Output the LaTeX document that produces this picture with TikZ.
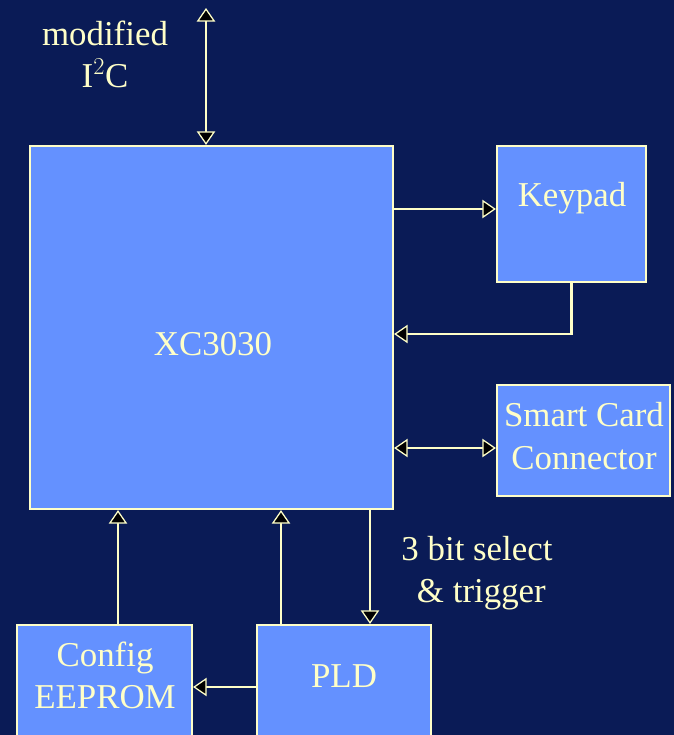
\documentclass[tikz,border=0pt]{standalone}
\usepackage{fontspec}
\setmainfont{Liberation Serif}
\usetikzlibrary{arrows.meta}

\definecolor{navy}{RGB}{10,27,86}
\definecolor{boxblue}{RGB}{100,145,255}
\definecolor{cream}{RGB}{255,255,200}

\begin{document}
\begin{tikzpicture}[x=0.025cm, y=-0.025cm,
  box/.style={draw=cream, line width=1.5pt, fill=boxblue, inner sep=0pt},
  txt/.style={text=cream, align=center, inner sep=0pt,
    font=\fontsize{24.8pt}{30pt}\selectfont},
  link/.style={draw=cream, line width=1.6pt},
  >={Triangle[length=0.34cm, width=0.46cm, fill=black, line width=0.9pt]}]
  % Page and background
  \useasboundingbox (0,0) rectangle (674,735);
  \fill[navy] (0,0) rectangle (674,735);
  \clip (0,0) rectangle (674,735);

  % Blocks
  \node[box, minimum width=9.075cm, minimum height=9.075cm] (xc) at (211.5,327.5) {};
  \node[box, minimum width=3.725cm, minimum height=3.4cm] (keypad) at (571.5,214) {};
  \node[box, minimum width=4.325cm, minimum height=2.775cm] (smart) at (583.5,440.5) {};
  \node[box, minimum width=4.375cm, minimum height=3.375cm] (eeprom) at (104.5,692.5) {};
  \node[box, minimum width=4.35cm, minimum height=3.375cm] (pld) at (344,692.5) {};

  % Texts
  \node[txt] (xctext) at (213,344) {XC3030};
  \node[txt] (keypadtext) at (572,198) {Keypad};
  \node[txt] (smarttext) at (584,436) {Smart Card\\Connector};
  \node[txt] (eepromtext) at (105,675) {Config\\EEPROM};
  \node[txt] (pldtext) at (344,676) {PLD};
  \node[txt] (i2ctext) at (105,54) {modified\\I$^{2}$C};
  \node[txt] (seltext) at (477,573) {3 bit select\\\ \& trigger};

  % Free end of the bus
  \coordinate (i2ctop) at (206,8);

  % Connections
  \draw[link, <->] (i2ctop) -- (i2ctop |- xc.north);
  \draw[link, ->] (xc.east |- 0,209) -- (keypad.west |- 0,209);
  \draw[link, ->] (keypad.south) |- (xc.east |- 0,334);
  \draw[link, <->] (xc.east |- 0,448) -- (smart.west |- 0,448);
  \draw[link, ->] (eeprom.north -| 118,0) -- (xc.south -| 118,0);
  \draw[link, ->] (pld.north -| 281,0) -- (xc.south -| 281,0);
  \draw[link, ->] (xc.south -| 370,0) -- (pld.north -| 370,0);
  \draw[link, ->] (pld.west |- 0,687) -- (eeprom.east |- 0,687);
\end{tikzpicture}
\end{document}
